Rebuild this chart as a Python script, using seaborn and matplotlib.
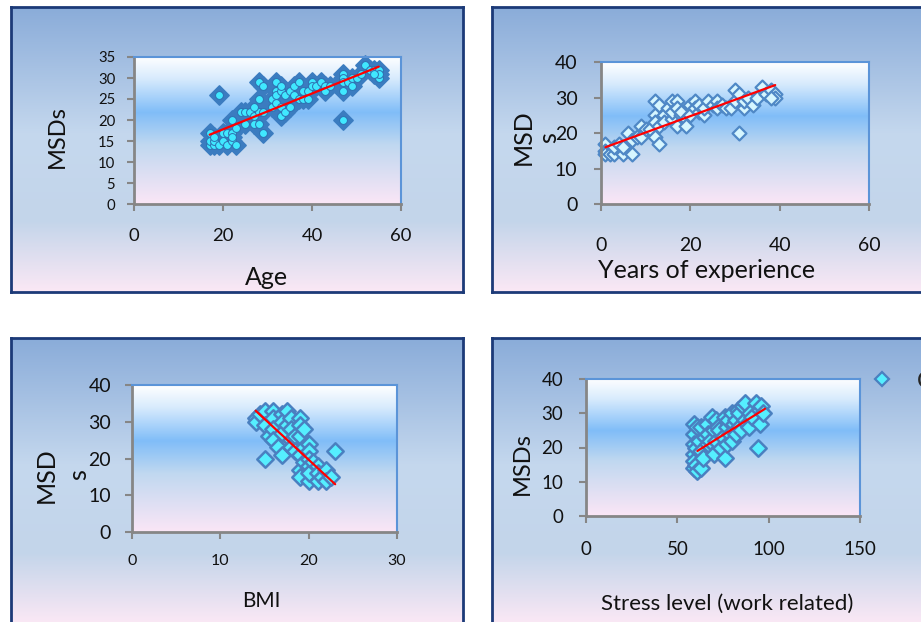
import matplotlib.pyplot as plt
import seaborn as sns
from matplotlib.colors import LinearSegmentedColormap
from matplotlib.lines import Line2D
import numpy as np

# ---- data ----
age = [17, 17, 18, 18, 19, 20, 21, 22, 23, 17, 18, 19, 20, 21, 22, 22, 23, 22,
       24, 25, 25, 26, 27, 27, 28, 28, 28, 28, 29, 29, 29, 27,
       31, 31, 32, 32, 32, 32, 33, 33, 33, 33, 34, 34, 35, 35, 36, 36, 37, 37, 38, 38,
       39, 39, 40, 40, 41, 42, 43, 43, 44, 47, 47, 47, 47, 47, 48, 49, 49, 50, 51,
       52, 53, 54, 55, 55, 55, 54]
msd_age = [14, 15, 14, 15, 14, 15, 14, 15, 14, 17, 16, 26, 17, 17, 20, 17, 18, 16,
           22, 19, 22, 22, 19, 21, 19, 22, 25, 29, 28, 22, 17, 23,
           25, 23, 29, 27, 24, 26, 21, 27, 28, 23, 26, 22, 23, 27, 28, 26, 29, 25, 27, 25,
           25, 27, 29, 28, 28, 29, 28, 27, 28, 31, 30, 27, 29, 20, 29, 28, 30, 30, 31,
           33, 32, 32, 30, 32, 31, 31]
age_trend = [17, 55]
age_trend_msd = [16.5, 32.7]

years = [1, 1, 1, 2, 3, 3, 4, 5, 5, 6, 7, 7, 8, 9, 9, 10, 11, 12, 12, 12, 12, 13, 13, 13,
         14, 14, 15, 16, 16, 16, 17, 17, 17, 18, 18, 19, 19, 20, 20, 21, 21, 22, 22, 23,
         23, 24, 25, 26, 26, 27, 28, 29, 30, 30, 31, 31, 32, 32, 33, 34, 35, 36, 37, 38,
         39, 39, 38]
msd_years = [17, 15, 14, 14, 14, 16, 17, 14, 16, 20, 18, 14, 19, 22, 19, 21, 21, 29, 25, 19,
             23, 17, 28, 22, 25, 23, 27, 29, 24, 26, 29, 22, 27, 25, 26, 24, 22, 28, 25, 29,
             27, 26, 28, 25, 27, 29, 28, 29, 27, 28, 27, 27, 32, 29, 20, 31, 27, 29, 30, 28,
             30, 33, 31, 32, 31, 30, 30]
years_trend = [1, 39]
years_trend_msd = [16.0, 33.5]

bmi = [14, 14, 14.5, 15, 15, 15.5, 15, 16, 16, 16, 16, 16.5, 17, 17, 17, 17, 17.5, 17.5,
       18, 18, 18, 18, 18.5, 18.5, 19, 19, 19, 19, 19, 19, 19.5, 19.5, 19.5, 20, 20, 20,
       20, 20, 20, 20.5, 21, 21, 21, 21.5, 22, 22, 22.5, 23]
msd_bmi = [31, 30, 32, 33, 29, 26, 20, 33, 31, 28, 25, 23, 32, 30, 27, 21, 33, 29,
           31, 28, 25, 23, 26, 22, 31, 29, 26, 21, 17, 15, 28, 23, 19, 24, 22, 20,
           18, 14, 16, 19, 18, 16, 14, 15, 17, 14, 15, 22]
bmi_trend = [14, 23]
bmi_trend_msd = [33, 13]

stress = [59, 59, 59, 59, 59, 59, 60, 60, 61, 61, 62, 63, 63, 63, 64, 65, 66, 67, 67, 68,
          69, 70, 70, 71, 71, 72, 73, 74, 75, 76, 76, 77, 77, 78, 79, 80, 80, 81, 82, 82,
          83, 84, 84, 85, 86, 87, 87, 88, 89, 90, 91, 93, 94, 95, 95, 96, 97]
msd_stress = [27, 24, 21, 18, 16, 14, 20, 15, 13, 26, 22, 26, 19, 14, 17, 23, 27, 24, 21, 22,
              29, 25, 18, 28, 22, 26, 25, 20, 23, 29, 17, 21, 26, 28, 24, 22, 30, 27, 24, 28,
              31, 30, 26, 25, 32, 33, 28, 27, 26, 30, 29, 33, 20, 31, 27, 32, 30]
stress_trend = [61, 98]
stress_trend_msd = [19, 31.3]

# ---- style ----
sns.set_style('white')
plt.rcParams['font.family'] = ['Lato', 'DejaVu Sans']

W, H = 921, 622
fig = plt.figure(figsize=(W / 100, H / 100), dpi=100)
fig.patch.set_facecolor('white')

outer_cmap = LinearSegmentedColormap.from_list(
    'outer', [(0, '#8aacd9'), (0.45, '#c5d8ee'), (0.75, '#c3d5ea'), (1, '#fbe8f5')])
inner_cmap = LinearSegmentedColormap.from_list(
    'inner', [(0, '#ffffff'), (0.15, '#d8ebfd'), (0.38, '#80bdf8'), (0.6, '#c0d8f0'), (1, '#fbe6f6')])
grad = np.linspace(0, 1, 256).reshape(-1, 1)

GRAY = '#868686'
NAVY = '#1c3a78'


def box(l, t, r, b):
    return [l / W, 1 - b / H, (r - l) / W, (b - t) / H]


def background(rect, cmap, z):
    a = fig.add_axes(rect, zorder=z)
    a.imshow(grad, cmap=cmap, aspect='auto', extent=[0, 1, 0, 1], origin='upper')
    a.set_xticks([])
    a.set_yticks([])
    return a


def panel(outer, inner, xlim, ylim, xticks, yticks, xfs, yfs, xpad, ypad):
    o = background(box(*outer), outer_cmap, 0)
    for s in o.spines.values():
        s.set_color(NAVY)
        s.set_linewidth(2)
    b = background(box(*inner), inner_cmap, 1)
    for s in b.spines.values():
        s.set_visible(False)
    ax = fig.add_axes(box(*inner), zorder=2)
    ax.patch.set_visible(False)
    ax.set_xlim(*xlim)
    ax.set_ylim(*ylim)
    ax.set_xticks(xticks)
    ax.set_yticks(yticks)
    ax.spines['left'].set_color(GRAY)
    ax.spines['bottom'].set_color(GRAY)
    ax.spines['left'].set_linewidth(2)
    ax.spines['bottom'].set_linewidth(2)
    ax.spines['top'].set_color('#5b94d8')
    ax.spines['right'].set_color('#5b94d8')
    ax.spines['top'].set_linewidth(1.5)
    ax.spines['right'].set_linewidth(1.5)
    ax.tick_params(bottom=True, left=True, direction='out', length=5, width=1.5,
                   color=GRAY, labelcolor='#111111')
    ax.tick_params(axis='x', labelsize=xfs, pad=xpad)
    ax.tick_params(axis='y', labelsize=yfs, pad=ypad)
    return ax


def ftext(x, y, s, **kw):
    fig.text(x / W, 1 - y / H, s, color='#111111', **kw)


# ---- panel 1: age ----
ax1 = panel((11, 7, 463, 292), (134, 57, 401, 204), (0, 60), (0, 35),
            [0, 20, 40, 60], range(0, 36, 5), 13.3, 10.7, 12, 8.5)
sns.scatterplot(x=age, y=msd_age, marker='D', s=95, color='#3b7cc0',
                edgecolor='#3b7cc0', linewidth=1.2, ax=ax1, legend=False, clip_on=False)
sns.scatterplot(x=age, y=msd_age, marker='o', s=32, color='#40e8ff',
                edgecolor='#2f6fb0', linewidth=0.7, ax=ax1, legend=False, clip_on=False)
sns.lineplot(x=age_trend, y=age_trend_msd, color='red', lw=1.6, ax=ax1)
ax1.set_xlabel('')
ax1.set_ylabel('')
ftext(57, 137, 'MSDs', rotation=90, fontsize=17, ha='center', va='center')
ftext(266, 285, 'Age', fontsize=18, ha='center', va='baseline')

# ---- panel 2: years of experience ----
ax2 = panel((492, 7, 923, 292), (601, 62, 869, 204), (0, 60), (0, 40),
            [0, 20, 40, 60], range(0, 41, 10), 14, 14, 19, 12)
sns.scatterplot(x=years, y=msd_years, marker='D', s=50, color='#d6f6ff',
                edgecolor='#4f88c6', linewidth=1.6, ax=ax2, legend=False, clip_on=False)
sns.lineplot(x=years_trend, y=years_trend_msd, color='red', lw=1.6, ax=ax2)
ax2.set_xlabel('')
ax2.set_ylabel('')
ftext(536, 137.5, 'MSD\ns', rotation=90, fontsize=18, ha='center', va='center',
      multialignment='center', linespacing=1.15)
ftext(707, 278, 'Years of experience', fontsize=18, ha='center', va='baseline')

# ---- panel 3: BMI ----
ax3 = panel((11, 338, 463, 624), (132, 385, 397, 532), (0, 30), (0, 40),
            [0, 10, 20, 30], range(0, 41, 10), 11.5, 14, 11, 10)
sns.scatterplot(x=bmi, y=msd_bmi, marker='D', s=70, color='#55efff',
                edgecolor='#4a80c0', linewidth=1.8, ax=ax3, legend=False, clip_on=False)
sns.lineplot(x=bmi_trend, y=bmi_trend_msd, color='red', lw=1.6, ax=ax3)
ax3.set_xlabel('')
ax3.set_ylabel('')
ftext(62, 475, 'MSD\ns', rotation=90, fontsize=18, ha='center', va='center',
      multialignment='center', linespacing=1.5)
ftext(261, 607, 'BMI', fontsize=15, ha='center', va='baseline')

# ---- panel 4: stress level ----
ax4 = panel((492, 338, 923, 624), (586, 379, 860, 516), (0, 150), (0, 40),
            [0, 50, 100, 150], range(0, 41, 10), 13.5, 13.5, 13, 11.5)
sns.scatterplot(x=stress, y=msd_stress, marker='D', s=70, color='#55efff',
                edgecolor='#4a80c0', linewidth=1.8, ax=ax4, legend=False, clip_on=False)
sns.lineplot(x=stress_trend, y=stress_trend_msd, color='red', lw=1.6, ax=ax4)
ax4.set_xlabel('')
ax4.set_ylabel('')
ftext(522, 464, 'MSDs', rotation=90, fontsize=17, ha='center', va='center')
ftext(727, 610, 'Stress level (work related)', fontsize=16, ha='center', va='baseline')

handle = Line2D([], [], marker='D', ls='', mfc='#55efff', mec='#4a80c0', mew=1.6, ms=7)
fig.legend(handles=[handle], labels=['C'], loc='center left',
           bbox_to_anchor=(870 / W, 1 - 381 / H), frameon=False, handlelength=1,
           handletextpad=1.0, borderpad=0, borderaxespad=0, fontsize=17)

fig.savefig('out.png', dpi=100)
